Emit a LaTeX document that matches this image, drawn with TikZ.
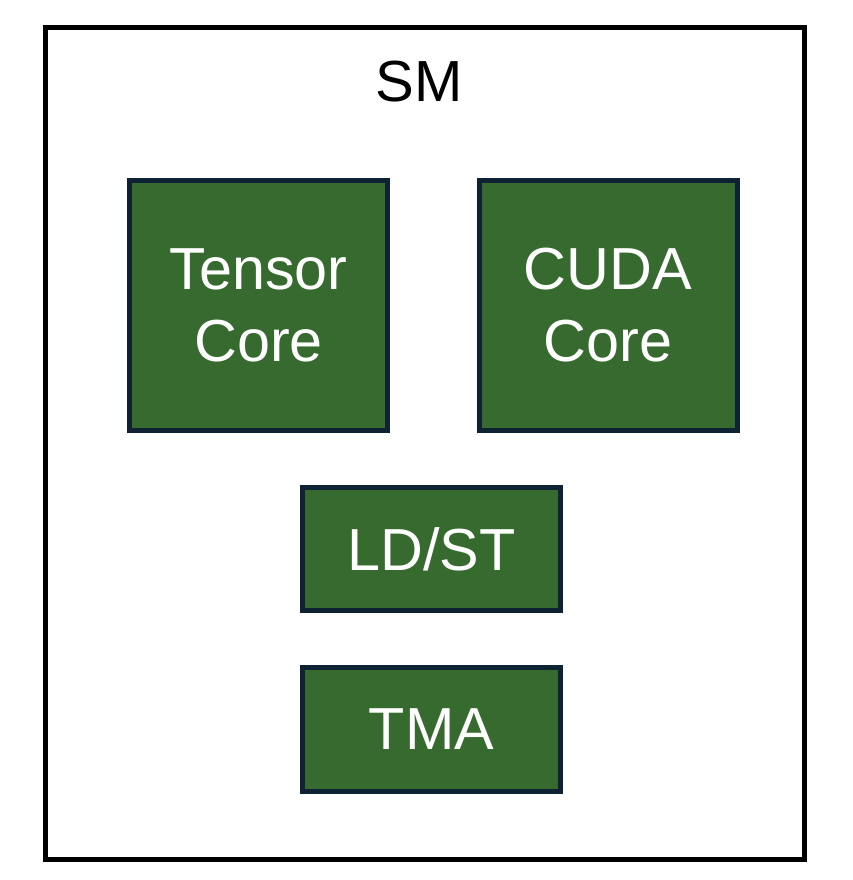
\documentclass[tikz,border=0pt]{standalone}
\usepackage{fontspec}
\setmainfont{Liberation Sans}
\usetikzlibrary{positioning}
\definecolor{unitgreen}{HTML}{376A2F}
\definecolor{unitedge}{HTML}{0F2234}

\begin{document}
\begin{tikzpicture}[x=0.75pt, y=-0.75pt,
  unit/.style={draw=unitedge, fill=unitgreen, line width=3.75pt,
    text=white, align=center, inner sep=0pt,
    font=\fontsize{44.5}{54}\selectfont,
    minimum width=193.5pt}]
\useasboundingbox (0,0) rectangle (852,880);
\node[draw=black, line width=3.75pt, minimum width=569pt, minimum height=624pt,
  inner sep=0pt] (sm) at (425,443.5) {};
\node[font=\fontsize{43.5}{48}\selectfont] (smlabel) at (419,82) {SM};
\node[unit, minimum height=187.5pt] (tensor) at (258.5,305.5) {Tensor\\Core};
\node[unit, minimum height=187.5pt] (cuda) at (608,305.5) {CUDA\\Core};
\node[unit, minimum height=92.5pt] (ldst) at (431.5,549) {LD/ST};
\node[unit, minimum height=92.5pt] (tma) at (431.5,729.5) {TMA};
\end{tikzpicture}
\end{document}
